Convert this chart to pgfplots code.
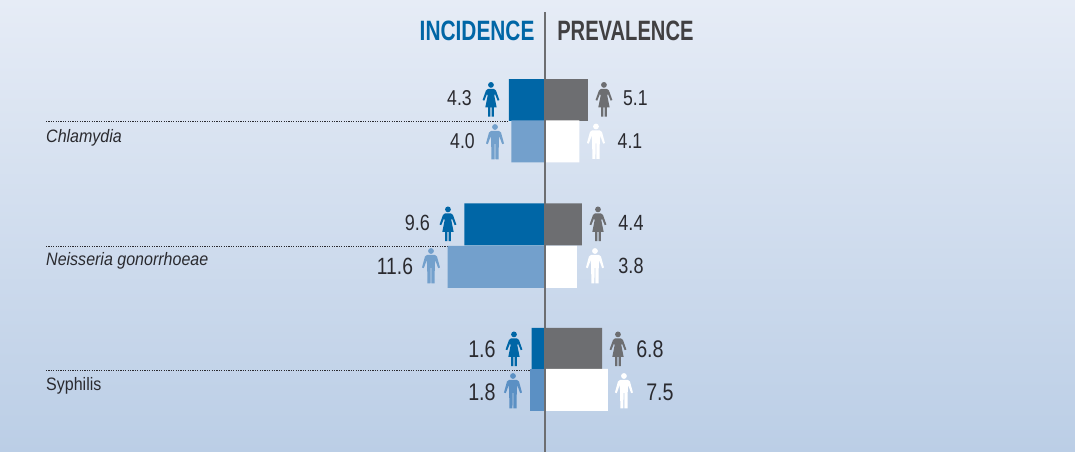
\documentclass[border=0pt]{standalone}
\usepackage{fontspec}
\usepackage{pgfplots}
\pgfplotsset{compat=1.18}
\setmainfont{Liberation Sans}
\newfontfamily\numf[FakeStretch=0.82]{Liberation Sans}
\newfontfamily\catf[FakeStretch=0.89]{Liberation Sans}
\newfontfamily\headf[FakeStretch=0.745]{Liberation Sans}
\newfontfamily\headg[FakeStretch=0.72]{Liberation Sans}
\definecolor{bgtop}{HTML}{E6ECF6}
\definecolor{bgbot}{HTML}{BBCEE6}
\definecolor{fblue}{HTML}{0066A6}
\definecolor{mblue}{HTML}{73A0CC}
\definecolor{mblueb}{HTML}{5B90C4}
\definecolor{fgrey}{HTML}{6D6E71}
\definecolor{txt}{HTML}{2A2A2F}
\definecolor{head}{HTML}{414042}
\pgfdeclareplotmark{woman}{%
  \pgfpathcircle{\pgfqpoint{0pt}{14.6pt}}{2.9pt}\pgfusepathqfill
  \pgfpathmoveto{\pgfqpoint{-3pt}{10.6pt}}
  \pgflineto{\pgfqpoint{3pt}{10.6pt}}
  \pgflineto{\pgfqpoint{5pt}{9pt}}
  \pgflineto{\pgfqpoint{8.4pt}{-0.5pt}}
  \pgflineto{\pgfqpoint{6.7pt}{-1.2pt}}
  \pgflineto{\pgfqpoint{4pt}{5.5pt}}
  \pgflineto{\pgfqpoint{3.3pt}{4pt}}
  \pgflineto{\pgfqpoint{5.7pt}{-8pt}}
  \pgflineto{\pgfqpoint{2.9pt}{-8pt}}
  \pgflineto{\pgfqpoint{2.9pt}{-17.2pt}}
  \pgflineto{\pgfqpoint{0.6pt}{-17.2pt}}
  \pgflineto{\pgfqpoint{0.6pt}{-8pt}}
  \pgflineto{\pgfqpoint{-0.6pt}{-8pt}}
  \pgflineto{\pgfqpoint{-0.6pt}{-17.2pt}}
  \pgflineto{\pgfqpoint{-2.9pt}{-17.2pt}}
  \pgflineto{\pgfqpoint{-2.9pt}{-8pt}}
  \pgflineto{\pgfqpoint{-5.7pt}{-8pt}}
  \pgflineto{\pgfqpoint{-3.3pt}{4pt}}
  \pgflineto{\pgfqpoint{-4pt}{5.5pt}}
  \pgflineto{\pgfqpoint{-6.7pt}{-1.2pt}}
  \pgflineto{\pgfqpoint{-8.4pt}{-0.5pt}}
  \pgflineto{\pgfqpoint{-5pt}{9pt}}
  \pgfpathclose\pgfusepathqfill}
\pgfdeclareplotmark{man}{%
  \pgfpathcircle{\pgfqpoint{0pt}{15pt}}{2.9pt}\pgfusepathqfill
  \pgfpathmoveto{\pgfqpoint{-4pt}{11pt}}
  \pgflineto{\pgfqpoint{4pt}{11pt}}
  \pgflineto{\pgfqpoint{6pt}{9.5pt}}
  \pgflineto{\pgfqpoint{9pt}{-1.5pt}}
  \pgflineto{\pgfqpoint{7.2pt}{-2.2pt}}
  \pgflineto{\pgfqpoint{4.2pt}{6pt}}
  \pgflineto{\pgfqpoint{3.8pt}{-1pt}}
  \pgflineto{\pgfqpoint{3.6pt}{-17.5pt}}
  \pgflineto{\pgfqpoint{0.5pt}{-17.5pt}}
  \pgflineto{\pgfqpoint{0.4pt}{-2pt}}
  \pgflineto{\pgfqpoint{-0.4pt}{-2pt}}
  \pgflineto{\pgfqpoint{-0.5pt}{-17.5pt}}
  \pgflineto{\pgfqpoint{-3.6pt}{-17.5pt}}
  \pgflineto{\pgfqpoint{-3.8pt}{-1pt}}
  \pgflineto{\pgfqpoint{-4.2pt}{6pt}}
  \pgflineto{\pgfqpoint{-7.2pt}{-2.2pt}}
  \pgflineto{\pgfqpoint{-9pt}{-1.5pt}}
  \pgflineto{\pgfqpoint{-6pt}{9.5pt}}
  \pgfpathclose\pgfusepathqfill}
\begin{document}
\begin{tikzpicture}
\begin{axis}[
  scale only axis, width=1075pt, height=452pt,
  xmin=-64.88, xmax=63.1, ymin=0, ymax=452, y dir=reverse,
  xtick=\empty, ytick=\empty, axis line style={draw=none},
  axis background/.style={top color=bgtop, bottom color=bgbot},
  clip=false,
  every node/.append style={inner sep=0pt},
  dot/.style={color=txt, line width=0.7pt, dash pattern=on 1.2pt off 1.2pt, forget plot},
  bara/.style={xbar, bar shift=0pt, bar width=42pt, draw=none, fill=#1, forget plot},
]
% dotted separators
\addplot[dot] coordinates {(-59.4,121) (-4.3,121)};
\addplot[dot] coordinates {(-59.4,246) (-9.6,246)};
\addplot[dot] coordinates {(-59.4,370) (-1.6,370)};
% bars
\addplot[bara=fblue] coordinates {(-4.3,100) (-9.6,224.5) (-1.6,349)};
\addplot[bara=mblue] coordinates {(-4.0,141.5) (-11.6,267)};
\addplot[bara=mblueb] coordinates {(-1.8,390)};
\addplot[bara=fgrey] coordinates {(5.1,100) (4.4,224.5) (6.8,349)};
\addplot[bara=white] coordinates {(4.1,141.5) (3.8,267) (7.5,390)};
% centre line
\addplot[color=fgrey, line width=1.3pt, forget plot] coordinates {(0,12) (0,452)};
% people
\addplot[only marks, mark=woman, color=fblue, forget plot] coordinates {(-6.43,99.5) (-11.55,224) (-3.69,349)};
\addplot[only marks, mark=woman, color=fgrey, forget plot] coordinates {(7.02,99.5) (6.31,224) (8.69,349)};
\addplot[only marks, mark=man, color=mblue, forget plot] coordinates {(-5.95,142) (-13.57,266)};
\addplot[only marks, mark=man, color=mblueb, forget plot] coordinates {(-3.81,391)};
\addplot[only marks, mark=man, color=white, forget plot] coordinates {(6.07,141.5) (5.95,266) (9.40,391)};
% value labels
\foreach \xx/\yy/\tt/\sz in {-10.18/98/4.3/21.5, 10.77/98/5.1/21.5, -9.82/141/4.0/21.5, 10.12/141/4.1/21.5,
  -15.18/223/9.6/22, 10.24/223/4.4/22, -17.86/266/11.6/23.5, 10.24/266/3.8/22,
  -7.5/349/1.6/24, 12.5/349/6.8/24, -7.5/392/1.8/24, 13.69/392/7.5/24}{
  \edef\temp{\noexpand\node[font=\noexpand\numf\noexpand\fontsize{\sz}{26}\noexpand\selectfont, text=txt, anchor=center] at (axis cs:\xx,\yy) {\tt};}
  \temp
}
% categories
\node[font=\catf\itshape\fontsize{18}{20}\selectfont, text=txt, anchor=base west] at (axis cs:-59.8,143) {Chlamydia};
\node[font=\catf\itshape\fontsize{18}{20}\selectfont, text=txt, anchor=base west] at (axis cs:-59.8,266) {Neisseria gonorrhoeae};
\node[font=\catf\fontsize{18}{20}\selectfont, text=txt, anchor=base west] at (axis cs:-59.8,391) {Syphilis};
% headings
\node[font=\headf\bfseries\fontsize{28}{30}\selectfont, text=fblue, anchor=base east] at (axis cs:-0.83,40) {INCIDENCE};
\node[font=\headg\bfseries\fontsize{28}{30}\selectfont, text=head, anchor=base west] at (axis cs:1.04,40) {PREVALENCE};
\end{axis}
\end{tikzpicture}
\end{document}
